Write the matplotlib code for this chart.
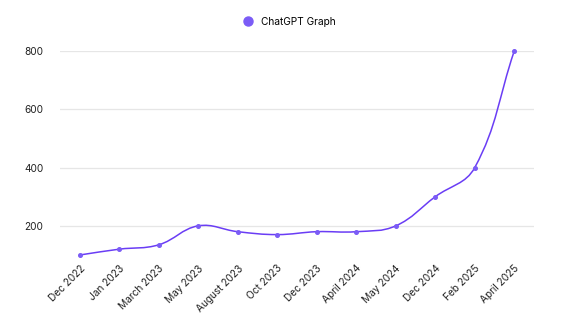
import numpy as np
import matplotlib.pyplot as plt
from matplotlib.path import Path
from matplotlib.patches import PathPatch
from matplotlib.lines import Line2D

plt.rcParams['font.family'] = ['Inter', 'DejaVu Sans']

months = ['Dec 2022', 'Jan 2023', 'March 2023', 'May 2023', 'August 2023', 'Oct 2023',
          'Dec 2023', 'April 2024', 'May 2024', 'Dec 2024', 'Feb 2025', 'April 2025']
values = [100, 120, 135, 200, 180, 170, 180, 180, 200, 300, 400, 800]
yticks = [200, 400, 600, 800]

line_color = '#6a3df5'
point_color = '#7b5cf6'

W, H = 573, 322
fig = plt.figure(figsize=(W / 100, H / 100), dpi=100)
ax = fig.add_axes([60 / W, (H - 255) / H, (534 - 60) / W, (255 - 51) / H])

x = np.arange(len(values), dtype=float)
y = np.array(values, dtype=float)

# smooth curve like a tension=0.4 spline, control points in pixel space
sx, sy = 39.5, 204 / 700
px, py = x * sx, y * sy
tension = 0.4
cp_prev, cp_next = [], []
for i in range(len(x)):
    a = (px[max(i - 1, 0)], py[max(i - 1, 0)])
    b = (px[i], py[i])
    c = (px[min(i + 1, len(x) - 1)], py[min(i + 1, len(x) - 1)])
    d01 = np.hypot(b[0] - a[0], b[1] - a[1])
    d12 = np.hypot(c[0] - b[0], c[1] - b[1])
    tot = d01 + d12
    s01 = d01 / tot if tot else 0
    s12 = d12 / tot if tot else 0
    fa, fb = tension * s01, tension * s12
    cp_prev.append((b[0] - fa * (c[0] - a[0]), b[1] - fa * (c[1] - a[1])))
    cp_next.append((b[0] + fb * (c[0] - a[0]), b[1] + fb * (c[1] - a[1])))

verts = [(x[0], y[0])]
codes = [Path.MOVETO]
for i in range(len(x) - 1):
    verts += [(cp_next[i][0] / sx, cp_next[i][1] / sy),
              (cp_prev[i + 1][0] / sx, cp_prev[i + 1][1] / sy),
              (x[i + 1], y[i + 1])]
    codes += [Path.CURVE4] * 3
ax.add_patch(PathPatch(Path(verts, codes), facecolor='none', edgecolor=line_color,
                       lw=1.1, clip_on=False, zorder=3))
ax.plot(x, y, 'o', color=point_color, ms=2.6, zorder=4, clip_on=False)

ax.set_xlim(-0.5, len(values) - 0.5)
ax.set_ylim(100, 800)
ax.set_yticks(yticks)
ax.set_xticks(x)
ax.set_xticklabels(months, rotation=45, ha='right', rotation_mode='anchor', fontsize=7.3)
ax.tick_params(axis='both', length=0, labelsize=7.3, colors='#222222')
ax.tick_params(axis='y', pad=12)
ax.tick_params(axis='x', pad=6)
ax.grid(axis='y', color='#e6e6e6', lw=0.9)
ax.set_axisbelow(True)
for s in ax.spines.values():
    s.set_visible(False)

handle = Line2D([], [], marker='o', ls='none', color=point_color, ms=6.5)
fig.legend([handle], ['ChatGPT Graph'], loc='center', bbox_to_anchor=(0.5, 1 - 22 / H),
           frameon=False, fontsize=7.3, handletextpad=0.3)

fig.savefig('out.png', dpi=100)
